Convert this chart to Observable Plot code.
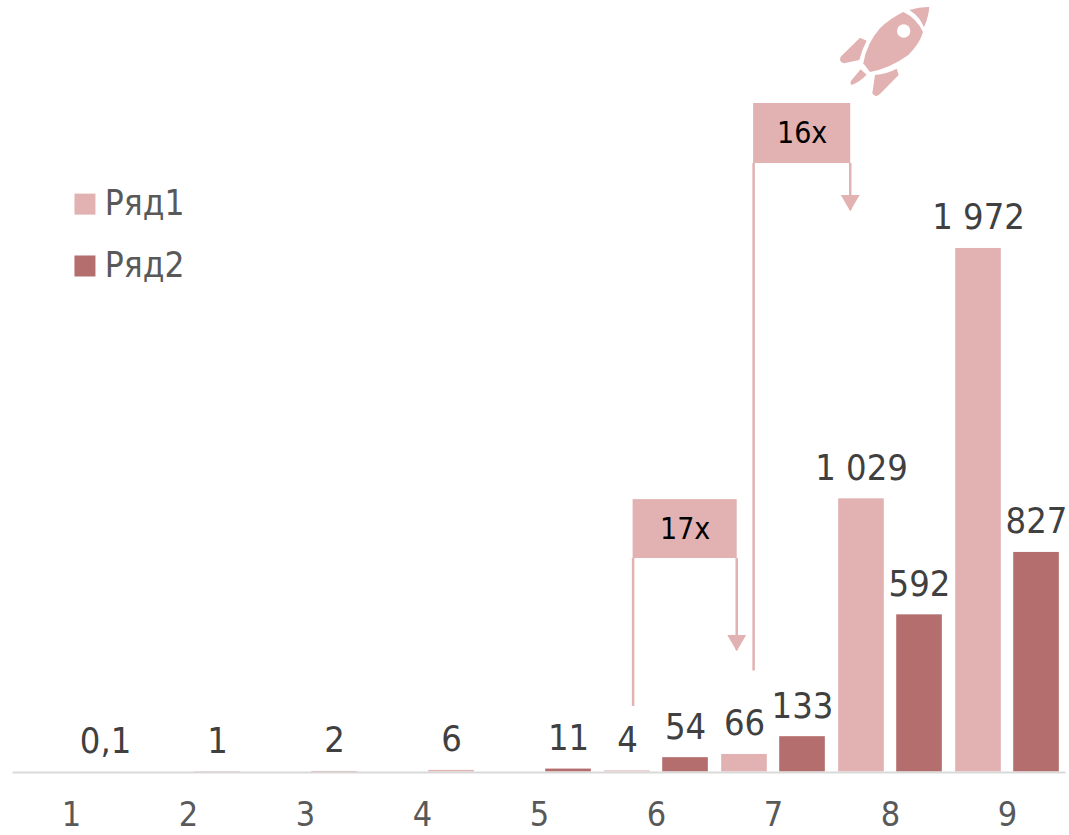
<!DOCTYPE html>
<html>
<head>
<meta charset="utf-8">
<script src="https://cdn.jsdelivr.net/npm/d3@7"></script>
<script src="https://cdn.jsdelivr.net/npm/@observablehq/plot@0.6"></script>
<style>html,body{margin:0;padding:0;background:#fff}svg{display:block}</style>
</head>
<body>
<div id="chart"></div>
<script>
const categories = [1, 2, 3, 4, 5, 6, 7, 8, 9];
const seriesNames = ["Ряд1", "Ряд2"];
const seriesColors = ["#E2B2B3", "#B46E6E"];
const values1 = [null, null, null, 6, null, 4, 66, 1029, 1972];
const values2 = [0.1, 1, 2, null, 11, 54, 133, 592, 827];
const callouts = [
  {label: "17x", left: 5.80, right: 6.69, top: 1026, bottom: 804, startY: 247, tipY: 458},
  {label: "16x", left: 6.83, right: 7.66, top: 2518, bottom: 2292, startY: 380, tipY: 2115}
];
const legendY = [2139, 1906];

const FONT = "'DejaVu Sans Condensed','DejaVu Sans',sans-serif";
const BAR_W = 0.39, OFFSET = 0.248;
const fmt = d3.formatLocale({decimal: ",", thousands: "\u00a0", grouping: [3], currency: ["", ""]}).format(",");

const rows = [];
categories.forEach((c, i) => {
  if (values1[i] != null) {
    // the small Ряд1 value of category 4 sits in the right-hand slot in the reference
    rows.push({cat: c, series: seriesNames[0], value: values1[i], slot: c === 4 ? OFFSET : -OFFSET});
  }
  if (values2[i] != null) {
    rows.push({cat: c, series: seriesNames[1], value: values2[i], slot: OFFSET});
  }
});
const legendRows = seriesNames.map((s, i) => ({series: s, y: legendY[i]}));

function rocket(index, {x, y}) {
  const g = d3.create("svg:g")
    .attr("transform", `translate(${x(6.718)},${y(2906)}) scale(0.3333)`)
    .attr("fill", seriesColors[0]);
  const paths = [
    "M508,30 Q540,20 568,21 Q566,50 552,82 Q540,50 508,30 Z",
    "M490,36 Q530,55 549,96 Q540,130 505,165 Q450,205 390,216 L370,190 Q380,130 420,85 Q450,55 490,36 Z",
    "M360,113 L380,122 Q365,150 358,180 L312,190 Q295,185 302,170 Z",
    "M362,208 L380,224 Q360,245 335,255 Q328,250 335,240 Z",
    "M470,206 L476,225 L420,282 Q405,295 397,280 L405,225 Q440,222 470,206 Z"
  ];
  paths.forEach(p => g.append("path").attr("d", p));
  g.append("circle").attr("cx", 491).attr("cy", 93).attr("r", 20).attr("fill", "#fff");
  return g.node();
}

const chart = Plot.plot({
  width: 1069,
  height: 835,
  marginLeft: 0,
  marginRight: 0,
  marginTop: 0,
  marginBottom: 63.5,
  style: {fontFamily: FONT, background: "#fff"},
  x: {domain: [0.3932, 9.5299], range: [0, 1069]},
  y: {domain: [0, 2906], axis: null},
  color: {domain: seriesNames, range: seriesColors},
  marks: [
    Plot.rectY(rows, {
      x1: d => d.cat + d.slot - BAR_W / 2,
      x2: d => d.cat + d.slot + BAR_W / 2,
      y1: 0,
      y2: "value",
      fill: "series"
    }),
    Plot.ruleY([0], {x1: 0.5, x2: 9.5, stroke: "#D9D9D9", strokeWidth: 2, dy: 0.5}),
    Plot.text(rows, {
      x: d => d.cat + d.slot + (d.value < 1 ? 0.043 : 0),
      y: "value",
      text: d => fmt(d.value),
      lineAnchor: "bottom",
      dy: -19,
      fontSize: 36,
      fill: "#404040"
    }),
    Plot.axisX({
      ticks: categories,
      tickFormat: d => String(d),
      tickSize: 0,
      tickPadding: 29.5,
      label: null,
      fontSize: 34,
      fill: "#595959"
    }),
    Plot.ruleX(callouts, {x: "left", y1: "bottom", y2: "startY", stroke: seriesColors[0], strokeWidth: 2.5}),
    Plot.ruleX(callouts, {x: "right", y1: "bottom", y2: "tipY", dx: -0.5, stroke: seriesColors[0], strokeWidth: 2.5}),
    Plot.dot(callouts, {x: "right", y: d => d.tipY + 38, dx: -0.5, symbol: "triangle", rotate: 180, r: 7, fill: seriesColors[0]}),
    Plot.rect(callouts, {x1: "left", x2: "right", y1: "bottom", y2: "top", fill: seriesColors[0]}),
    Plot.text(callouts, {
      x: d => (d.left + d.right) / 2,
      y: d => (d.top + d.bottom) / 2,
      text: "label",
      fontSize: 30,
      fill: "#000"
    }),
    Plot.dot(legendRows, {x: 1.115, y: "y", symbol: "square", r: 11.85, fill: "series"}),
    Plot.text(legendRows, {x: 1.285, y: "y", text: "series", textAnchor: "start", fontSize: 35, fill: "#595959"}),
    rocket
  ]
});
document.getElementById("chart").appendChild(chart);
</script>
</body>
</html>
